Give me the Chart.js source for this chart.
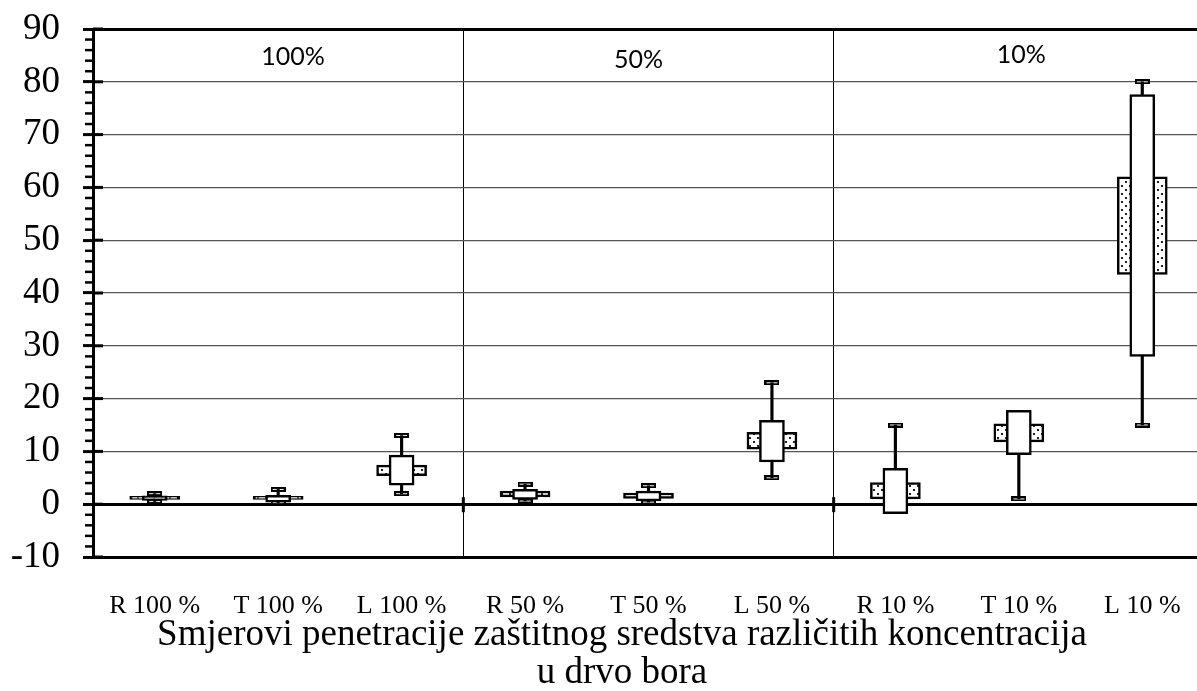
<!DOCTYPE html>
<html>
<head>
<meta charset="utf-8">
<script src="https://cdn.jsdelivr.net/npm/chart.js@4"></script>
<style>
  html, body { margin: 0; padding: 0; background: #fff; overflow: hidden; }
  #wrap { width: 1209px; height: 691px; position: relative; }
</style>
</head>
<body>
<div id="wrap"><canvas id="chart"></canvas></div>
<script>
// values
const categories = ["R 100 %", "T 100 %", "L 100 %", "R 50 %", "T 50 %", "L 50 %", "R 10 %", "T 10 %", "L 10 %"];
const whiskerMin = [0.5, 0.3, 2, 0.6, 0.4, 5, 0, 1, 15];
const whiskerMax = [2.0, 2.8, 13, 3.8, 3.5, 23, 15, 16, 80];
const outerLow = [0.7, 0.4, 3.6, 0.9, 0.6, 8.0, -1.8, 9.4, 28.0];
const outerHigh = [1.6, 1.7, 9.3, 2.8, 2.5, 15.9, 6.8, 17.8, 77.6];
const innerLow = [0.9, 0.9, 5.4, 1.4, 1.1, 10.4, 1.0, 11.8, 43.5];
const innerHigh = [1.5, 1.5, 7.4, 2.5, 2.1, 13.6, 4.1, 15.2, 62.0];

const sectionLabels = ["100%", "50%", "10%"];
const sectionX = [1.12, 3.92, 7.02];
const sectionY = [84.8, 84.1, 85.0];
const sectionBounds = [2.5, 5.5];
const axisTitle = ["Smjerovi penetracije zaštitnog sredstva različitih koncentracija", "u drvo bora"];

window.addEventListener("load", main);

function pairs(lo, hi) {
  return lo.map((v, i) => [v, hi[i]]);
}

function makeDots(ctx) {
  const c = document.createElement("canvas");
  c.width = 8;
  c.height = 8;
  const g = c.getContext("2d");
  g.fillStyle = "#fff";
  g.fillRect(0, 0, 8, 8);
  g.fillStyle = "#222";
  g.fillRect(1, 1, 2, 2);
  g.fillRect(5, 5, 2, 2);
  return ctx.createPattern(c, "repeat");
}

function makeCap() {
  const c = document.createElement("canvas");
  c.width = 15;
  c.height = 5;
  const g = c.getContext("2d");
  g.fillStyle = "#000";
  g.fillRect(0, 0, 15, 5);
  g.fillStyle = "#fff";
  g.fillRect(2, 2, 11, 1);
  return c;
}

// ticks, separators and text that chart.js has no option for
const extras = {
  id: "extras",
  afterDraw(chart) {
    const ctx = chart.ctx;
    const x = chart.scales.x;
    const y = chart.scales.y;
    const area = chart.chartArea;
    ctx.save();
    ctx.strokeStyle = "#000";
    for (let v = -10; v <= 90; v += 2) {
      const py = y.getPixelForValue(v);
      ctx.beginPath();
      if (v % 10 === 0) {
        ctx.lineWidth = 3;
        ctx.moveTo(area.left, py);
        ctx.lineTo(area.left + 10, py);
      } else {
        ctx.lineWidth = 2.5;
        ctx.moveTo(area.left - 8, py);
        ctx.lineTo(area.left, py);
      }
      ctx.stroke();
    }
    const y0 = y.getPixelForValue(0);
    ctx.lineWidth = 3;
    sectionBounds.forEach((b) => {
      const px = x.getPixelForValue(b);
      ctx.beginPath();
      ctx.moveTo(px, y0 - 7);
      ctx.lineTo(px, y0 + 8);
      ctx.stroke();
    });

    ctx.fillStyle = "#000";
    ctx.textAlign = "center";
    ctx.textBaseline = "middle";
    ctx.font = "25px Lato";
    sectionLabels.forEach((t, i) => {
      ctx.fillText(t, x.getPixelForValue(sectionX[i]), y.getPixelForValue(sectionY[i]));
    });

    ctx.font = "37px 'Liberation Serif'";
    const cx = 622;
    ctx.fillText(axisTitle[0], cx, 635);
    ctx.fillText(axisTitle[1], cx, 673);
    ctx.restore();
  }
};

function main() {
  const canvas = document.getElementById("chart");
  const ctx = canvas.getContext("2d");
  const dots = makeDots(ctx);
  const cap = makeCap();

  const data = {
    labels: categories,
    datasets: [
      {
        type: "line",
        label: "min",
        data: whiskerMin,
        showLine: false,
        pointStyle: cap,
        order: 4
      },
      {
        type: "line",
        label: "max",
        data: whiskerMax,
        showLine: false,
        pointStyle: cap,
        order: 4
      },
      {
        label: "whisker",
        data: pairs(whiskerMin, whiskerMax),
        backgroundColor: "#000",
        borderWidth: 0,
        barThickness: 2.5,
        grouped: false,
        order: 3
      },
      {
        label: "inner",
        data: pairs(innerLow, innerHigh),
        backgroundColor: dots,
        borderColor: "#000",
        borderWidth: 2.5,
        borderSkipped: false,
        barThickness: 50,
        grouped: false,
        order: 2
      },
      {
        label: "outer",
        data: pairs(outerLow, outerHigh),
        backgroundColor: "#fff",
        borderColor: "#000",
        borderWidth: 2.5,
        borderSkipped: false,
        barThickness: 25,
        grouped: false,
        order: 1
      }
    ]
  };

  const options = {
    responsive: false,
    animation: false,
    events: [],
    layout: { padding: { top: 29, right: 0, bottom: 0, left: 0 } },
    plugins: {
      legend: { display: false },
      tooltip: { enabled: false }
    },
    scales: {
      x: {
        offset: true,
        afterFit: (s) => {
          s.height = 134;
          s.paddingLeft = 0;
          s.paddingRight = 0;
        },
        grid: {
          offset: true,
          drawTicks: false,
          lineWidth: 1,
          color: (c) => (c.index === 3 || c.index === 6) ? "#000" : "rgba(0,0,0,0)"
        },
        border: { display: true, color: "#000", width: 3 },
        ticks: {
          color: "#000",
          padding: 34,
          autoSkip: false,
          maxRotation: 0,
          font: { family: "'Liberation Serif'", size: 26 }
        }
      },
      y: {
        min: -10,
        max: 90,
        afterFit: (s) => {
          s.width = 93;
          s.paddingTop = 0;
          s.paddingBottom = 0;
        },
        ticks: {
          stepSize: 10,
          color: "#000",
          padding: 23,
          font: { family: "'Liberation Serif'", size: 37 }
        },
        grid: {
          tickLength: 10,
          tickWidth: 3,
          tickColor: "#000",
          color: (c) => {
            const v = c.tick ? c.tick.value : null;
            return (v === 0 || v === 90 || v === -10) ? "#000" : "#555";
          },
          lineWidth: (c) => {
            const v = c.tick ? c.tick.value : null;
            return (v === 0 || v === 90 || v === -10) ? 3 : 1.2;
          }
        },
        border: { color: "#000", width: 3 }
      }
    }
  };

  canvas.width = 1209;
  canvas.height = 691;
  new Chart(ctx, {
    type: "bar",
    data: data,
    options: options,
    plugins: [extras]
  });
}
</script>
</body>
</html>
